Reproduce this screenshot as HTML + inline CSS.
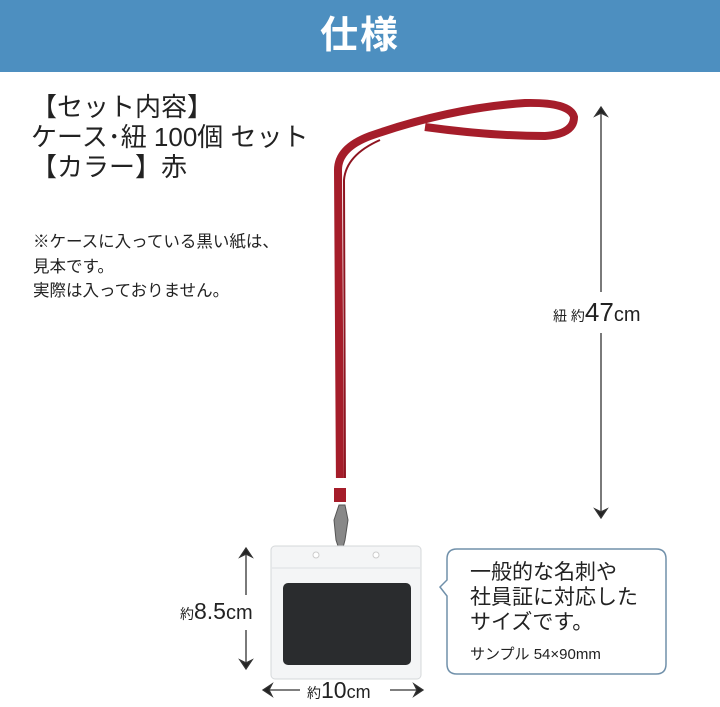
<!DOCTYPE html>
<html><head><meta charset="utf-8"><style>
body{margin:0;width:720px;height:706px;background:#fff;position:relative;overflow:hidden;font-family:"Liberation Sans","Noto Sans CJK JP",sans-serif;color:#222}
.hd{position:absolute;left:0;top:0;width:720px;height:72px;background:#4d8fc0;color:#fff;font-size:38px;font-weight:bold;text-align:center;line-height:72px;letter-spacing:2px}
.t{position:absolute;white-space:nowrap}
</style></head><body>
<div class="hd">仕様</div>
<div class="t" style="left:31px;top:92px;font-size:26px;line-height:30px">【セット内容】<br>ケース･紐 100個 セット<br>【カラー】赤</div>
<div class="t" style="left:33px;top:230px;font-size:16.5px;line-height:24.5px">※ケースに入っている黒い紙は、<br>見本です。<br>実際は入っておりません。</div>
<svg width="720" height="706" style="position:absolute;left:0;top:0">
<path d="M340 490 L338 170 Q338 148 370 136 Q450 108 525 103 Q570 102 574 117 Q574 134 545 136 Q490 136 425 127" fill="none" stroke="#a51d2a" stroke-width="8" stroke-linejoin="round"/>
<path d="M345 490 L344 180 Q346 155 380 140" fill="none" stroke="#8e1420" stroke-width="2"/>
<rect x="334" y="478" width="12" height="10" fill="#fff"/>
<rect x="334" y="488" width="12" height="14" fill="#a51d2a"/>
<path d="M339 505 L345 505 L348 520 L345 540 L341 555 L336 540 L334 520 Z" fill="#888" stroke="#555" stroke-width="1"/>
<rect x="271" y="546" width="150" height="133" rx="4" fill="#f4f5f6" stroke="#d5d8da"/>
<line x1="272" y1="568" x2="420" y2="568" stroke="#dde0e2"/>
<circle cx="316" cy="555" r="3" fill="#fff" stroke="#ccc"/>
<circle cx="376" cy="555" r="3" fill="#fff" stroke="#ccc"/>
<rect x="283" y="583" width="128" height="82" rx="5" fill="#2a2c2e"/>
<g stroke="#333" stroke-width="1.3" fill="#222">
<line x1="601" y1="112" x2="601" y2="292"/><line x1="601" y1="333" x2="601" y2="513"/>
<path d="M595 116 L601 107 L607 116 L601 113Z"/><path d="M595 509 L601 518 L607 509 L601 512Z"/>
<line x1="246" y1="553" x2="246" y2="595"/><line x1="246" y1="630" x2="246" y2="664"/>
<path d="M240 557 L246 548 L252 557 L246 554Z"/><path d="M240 660 L246 669 L252 660 L246 663Z"/>
<line x1="268" y1="690" x2="300" y2="690"/><line x1="390" y1="690" x2="418" y2="690"/>
<path d="M272 684 L263 690 L272 696 L269 690Z"/><path d="M414 684 L423 690 L414 696 L417 690Z"/>
</g>
<path d="M457 549 H656 Q666 549 666 559 V664 Q666 674 656 674 H457 Q447 674 447 664 V596 L440 587 L447 580 V559 Q447 549 457 549Z" fill="#fff" stroke="#7090aa" stroke-width="1.5"/>
</svg>
<div class="t" style="left:553px;top:297px;font-size:14px;line-height:30px">紐 約<span style="font-size:26px">47</span><span style="font-size:20px">cm</span></div>
<div class="t" style="left:180px;top:597px;font-size:14px;line-height:28px">約<span style="font-size:23px">8.5</span><span style="font-size:20px">cm</span></div>
<div class="t" style="left:307px;top:676px;font-size:14px;line-height:28px">約<span style="font-size:23px">10</span><span style="font-size:18px">cm</span></div>
<div class="t" style="left:470px;top:560px;font-size:21px;line-height:25px">一般的な名刺や<br>社員証に対応した<br>サイズです。</div>
<div class="t" style="left:470px;top:645px;font-size:15px;line-height:20px">サンプル 54×90mm</div>
</body></html>
